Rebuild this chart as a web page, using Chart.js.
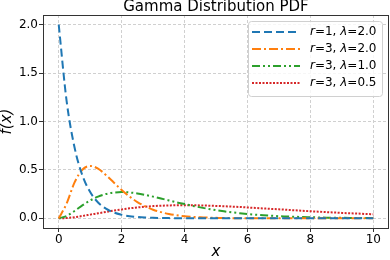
<!DOCTYPE html>
<html>
<head>
<meta charset="utf-8">
<script src="https://cdn.jsdelivr.net/npm/chart.js@4.4.0/dist/chart.umd.min.js"></script>
<style>
  html, body { margin: 0; padding: 0; background: #fff; }
  canvas { display: block; }
</style>
</head>
<body>
<canvas id="myChart" width="390" height="260"></canvas>
<script>
'use strict';
// x grid shared by all four curves
const xValues = [0, 0.25, 0.5, 0.75, 1, 1.25, 1.5, 1.75, 2, 2.25, 2.5, 2.75, 3, 3.25, 3.5, 3.75,
    4, 4.25, 4.5, 4.75, 5, 5.25, 5.5, 5.75, 6, 6.25, 6.5, 6.75, 7, 7.25, 7.5, 7.75,
    8, 8.25, 8.5, 8.75, 9, 9.25, 9.5, 9.75, 10];

// f(x), one list per curve
const pdfR1L2 = [2.0, 1.213, 0.736, 0.446, 0.271, 0.164, 0.100, 0.060, 0.037, 0.022, 0.013, 0.008,
    0.005, 0.003, 0.002, 0.001, 0.001, 0, 0, 0, 0, 0, 0, 0, 0, 0, 0, 0, 0, 0, 0, 0,
    0, 0, 0, 0, 0, 0, 0, 0, 0];
const pdfR3L2 = [0, 0.152, 0.368, 0.502, 0.541, 0.513, 0.448, 0.370, 0.293, 0.225, 0.168, 0.124,
    0.089, 0.064, 0.045, 0.031, 0.021, 0.015, 0.010, 0.007, 0.005, 0.003, 0.002, 0.001, 0.001,
    0, 0, 0, 0, 0, 0, 0, 0, 0, 0, 0, 0, 0, 0, 0, 0];
const pdfR3L1 = [0, 0.024, 0.076, 0.133, 0.184, 0.224, 0.251, 0.266, 0.271, 0.267, 0.257, 0.242,
    0.224, 0.205, 0.185, 0.165, 0.147, 0.129, 0.113, 0.098, 0.084, 0.072, 0.062, 0.053,
    0.045, 0.038, 0.032, 0.027, 0.022, 0.019, 0.016, 0.013, 0.011, 0.009, 0.007, 0.006,
    0.005, 0.004, 0.003, 0.003, 0.002];
const pdfR3L05 = [0, 0.003, 0.012, 0.024, 0.038, 0.052, 0.066, 0.080, 0.092, 0.103, 0.112, 0.120,
    0.126, 0.130, 0.133, 0.135, 0.135, 0.135, 0.133, 0.131, 0.128, 0.125, 0.121, 0.117,
    0.112, 0.107, 0.102, 0.097, 0.093, 0.088, 0.083, 0.078, 0.073, 0.069, 0.064, 0.060,
    0.056, 0.052, 0.049, 0.045, 0.042];

// legend parameters
const shapes = ['1', '3', '3', '3'];
const rates = ['2.0', '2.0', '1.0', '0.5'];

const xTicks = [0, 2, 4, 6, 8, 10];
const yTicks = [0, 0.5, 1.0, 1.5, 2.0];

const FONT = 'DejaVu Sans';

function toPoints(ys) {
    return xValues.map((x, i) => ({x: x, y: ys[i]}));
}

// Full box around the plot, like matplotlib spines
const framePlugin = {
    id: 'frame',
    afterDatasetsDraw(chart) {
        const {ctx, chartArea: a} = chart;
        ctx.save();
        ctx.strokeStyle = '#333';
        ctx.lineWidth = 1;
        ctx.strokeRect(a.left + 0.5, a.top + 0.5, a.right - a.left - 1, a.bottom - a.top);
        ctx.restore();
    }
};

// Legend in the top right corner, with dash samples and mathtext-ish labels
const legendPlugin = {
    id: 'mplLegend',
    afterDraw(chart) {
        const {ctx, chartArea: a} = chart;
        const w = 134, h = 75;
        const left = a.right - 7 - w, top = a.top + 6;
        ctx.save();
        ctx.beginPath();
        ctx.roundRect(left + 0.5, top + 0.5, w, h, 3);
        ctx.fillStyle = 'rgba(255,255,255,0.8)';
        ctx.fill();
        ctx.strokeStyle = '#d0d0d0';
        ctx.lineWidth = 1;
        ctx.stroke();

        chart.data.datasets.forEach((ds, i) => {
            const y = top + 11 + i * 17;
            ctx.beginPath();
            ctx.setLineDash(ds.borderDash);
            ctx.strokeStyle = ds.borderColor;
            ctx.lineWidth = ds.borderWidth;
            ctx.moveTo(left + 4, y);
            ctx.lineTo(left + 52, y);
            ctx.stroke();
            ctx.setLineDash([]);

            const parts = [
                ['r', true], ['=' + shapes[i] + ', ', false], ['\u03bb', true], ['=' + rates[i], false]
            ];
            let x = left + 62;
            ctx.fillStyle = '#000';
            ctx.textBaseline = 'middle';
            parts.forEach(p => {
                ctx.font = (p[1] ? 'italic ' : '') + '12px "' + FONT + '"';
                ctx.fillText(p[0], x, y);
                x += ctx.measureText(p[0]).width;
            });
        });
        ctx.restore();
    }
};

const ctx = document.getElementById('myChart').getContext('2d');
const chart = new Chart(ctx, {
    type: 'line',
    data: {
        datasets: [{
            label: 'r=1, λ=2.0',
            data: toPoints(pdfR1L2),
            borderColor: '#1f77b4',
            borderWidth: 2,
            borderDash: [8, 4]
        }, {
            label: 'r=3, λ=2.0',
            data: toPoints(pdfR3L2),
            borderColor: '#ff7f0e',
            borderWidth: 2,
            borderDash: [9, 3, 2, 3]
        }, {
            label: 'r=3, λ=1.0',
            data: toPoints(pdfR3L1),
            borderColor: '#2ca02c',
            borderWidth: 2,
            borderDash: [8, 3, 2, 3, 2, 3]
        }, {
            label: 'r=3, λ=0.5',
            data: toPoints(pdfR3L05),
            borderColor: '#d62728',
            borderWidth: 2,
            borderDash: [2, 1.5]
        }]
    },
    options: {
        responsive: false,
        devicePixelRatio: 1,
        animation: false,
        layout: {autoPadding: false, padding: {left: 0, right: 1, top: 0, bottom: 0}},
        elements: {
            point: {radius: 0},
            line: {fill: false, cubicInterpolationMode: 'monotone'}
        },
        plugins: {
            legend: {display: false},
            tooltip: {enabled: false},
            title: {
                display: true,
                fullSize: false,
                text: 'Gamma Distribution PDF',
                color: '#000',
                font: {family: FONT, size: 15, weight: 'normal', lineHeight: 1},
                padding: {top: 0, bottom: 0}
            }
        },
        scales: {
            x: {
                type: 'linear',
                min: -0.5,
                max: 10.5,
                afterBuildTicks: axis => { axis.ticks = xTicks.map(v => ({value: v})); },
                afterFit: axis => { axis.height = 32; },
                grid: {color: '#d0d0d0', tickColor: '#333', tickLength: 4},
                border: {display: false, dash: [3, 2]},
                ticks: {
                    color: '#000',
                    padding: 1,
                    autoSkip: false,
                    maxRotation: 0,
                    font: {family: FONT, size: 12},
                    callback: v => String(v)
                },
                title: {
                    display: true,
                    text: 'x',
                    color: '#000',
                    font: {family: FONT, size: 15, style: 'italic', lineHeight: 1},
                    padding: 0
                }
            },
            y: {
                min: -0.1,
                max: 2.1,
                afterBuildTicks: axis => { axis.ticks = yTicks.map(v => ({value: v})); },
                afterFit: axis => { axis.width = 43; },
                grid: {color: '#d0d0d0', tickColor: '#333', tickLength: 4},
                border: {display: false, dash: [3, 2]},
                ticks: {
                    color: '#000',
                    padding: 1,
                    autoSkip: false,
                    font: {family: FONT, size: 12},
                    callback: v => v.toFixed(1)
                },
                title: {
                    display: true,
                    text: 'f(x)',
                    color: '#000',
                    font: {family: FONT, size: 15, style: 'italic', lineHeight: 1},
                    padding: 0
                }
            }
        }
    },
    plugins: [framePlugin, legendPlugin]
});
</script>
</body>
</html>
